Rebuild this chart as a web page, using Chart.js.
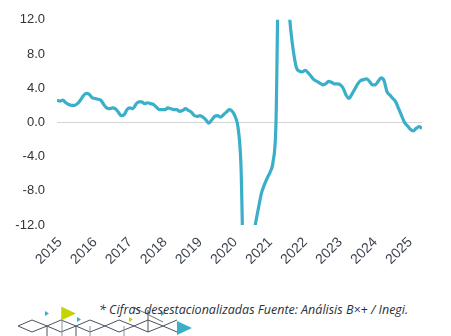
<!DOCTYPE html>
<html>
<head>
<meta charset="utf-8">
<script src="https://cdn.jsdelivr.net/npm/chart.js@4.4.1/dist/chart.umd.min.js"></script>
<style>
  html, body { margin: 0; padding: 0; background: #fff; }
  #wrap { position: relative; width: 451px; height: 336px; overflow: hidden; }
  #igae { position: absolute; left: 0; top: 0; }
  #nota {
    position: absolute; left: 99px; top: 301px;
    font: italic 12.5px "Open Sans", "Liberation Sans", sans-serif;
    color: #2b2f3a; white-space: nowrap;
  }
  #deco { position: absolute; left: 0; top: 300px; }
</style>
</head>
<body>
<div id="wrap">
  <canvas id="igae" width="451" height="285"></canvas>
  <svg id="deco" width="200" height="36" viewBox="0 300 200 36">
    <g fill="none" stroke="#4a5260" stroke-width="1">
      <polyline points="18,326 32,320 47,326 61,320 76,326 90,320 105,326 119,320 134,326 148,320 163,326 177,320" />
      <polyline points="18,326 32,332 47,326 61,332 76,326 90,332 105,326 119,332 134,326 148,332 163,326 177,332" />
      <line x1="62" y1="307" x2="62" y2="336" stroke="#8a909a" />
      <line x1="47" y1="326" x2="47" y2="336" />
      <line x1="76" y1="326" x2="76" y2="336" />
      <line x1="90" y1="326" x2="90" y2="336" stroke="#8a909a" />
      <line x1="148" y1="310" x2="148" y2="332" />
      <line x1="133" y1="307" x2="163" y2="322" stroke="#6a707a" />
      <line x1="124" y1="326" x2="124" y2="336" stroke="#8a909a" />
    </g>
    <polygon points="45,311 45,316 49,313.5" fill="#3aafc9" />
    <polygon points="62,307 62,320 76,313.5" fill="#c3d500" />
    <polygon points="77,317 77,322 81,319.5" fill="#3aafc9" />
    <polygon points="129,317 129,322 133,319.5" fill="#c3d500" />
    <polygon points="161,311 161,316 165,313.5" fill="#3aafc9" />
    <polygon points="177,321 177,335 192,328" fill="#3aafc9" />
  </svg>
  <div id="nota">* Cifras desestacionalizadas Fuente: Análisis B×+ / Inegi.</div>
</div>
<script>
// años del eje x, uno por cada enero
const years = ["2015", "2016", "2017", "2018", "2019", "2020", "2021", "2022", "2023", "2024", "2025"];

// variación anual mensual (%), ene-2015 a jun-2025
const v2015 = [2.6, 2.5, 2.6, 2.3, 2.1, 2.0, 2.0, 2.2, 2.6, 3.1, 3.4, 3.3];
const v2016 = [2.9, 2.8, 2.7, 2.6, 2.1, 1.7, 1.6, 1.7, 1.6, 1.2, 0.8, 0.9];
const v2017 = [1.5, 1.7, 1.6, 2.1, 2.4, 2.4, 2.2, 2.3, 2.2, 2.1, 1.8, 1.5];
const v2018 = [1.5, 1.5, 1.7, 1.6, 1.5, 1.5, 1.3, 1.4, 1.6, 1.4, 1.2, 0.8];
const v2019 = [0.7, 0.8, 0.6, 0.3, -0.1, 0.3, 0.7, 0.8, 0.6, 0.9, 1.2, 1.5];
const v2020 = [1.3, 0.7, -0.6, -5.0, -19.0, -21.0, -17.0, -14.0, -11.8, -10.0, -8.3, -7.3];
const v2021 = [-6.5, -5.8, -4.6, 0.0, 20.0, 21.0, 19.0, 15.0, 11.0, 8.2, 6.4, 6.0];
const v2022 = [5.9, 6.1, 5.8, 5.4, 5.0, 4.8, 4.6, 4.4, 4.5, 4.8, 4.7, 4.5];
const v2023 = [4.5, 4.4, 4.0, 3.2, 2.8, 3.3, 3.9, 4.5, 4.9, 5.0, 5.1, 4.8];
const v2024 = [4.4, 4.4, 4.8, 5.2, 4.9, 3.6, 3.2, 2.8, 2.4, 1.6, 0.8, 0.0];
const v2025 = [-0.4, -0.8, -1.0, -0.7, -0.5, -0.7];

const values = [].concat(v2015, v2016, v2017, v2018, v2019, v2020, v2021, v2022, v2023, v2024, v2025);

// una etiqueta por mes: "2015-01", ...
const labels = values.map((_, i) => years[Math.floor(i / 12)] + "-" + String(i % 12 + 1).padStart(2, "0"));

const ctx = document.getElementById("igae").getContext("2d");

new Chart(ctx, {
  type: "line",
  data: {
    labels: labels,
    datasets: [{
      data: values,
      borderColor: "#3aafc9",
      borderWidth: 3.2,
      pointRadius: 0,
      fill: false,
      cubicInterpolationMode: "monotone",
      clip: 0
    }]
  },
  options: {
    responsive: false,
    animation: false,
    layout: { padding: { top: 18, right: 29, left: 0, bottom: 0 } },
    scales: {
      x: {
        grid: { display: false, drawTicks: false },
        border: { display: false },
        afterFit: s => { s.height = 60; },
        ticks: {
          autoSkip: false,
          maxRotation: 45,
          minRotation: 45,
          padding: 9,
          labelOffset: 3,
          color: "#3d4450",
          font: { family: "'Liberation Sans', Arial, sans-serif", size: 14 },
          callback: (v, i) => i % 12 === 0 ? years[i / 12] : ""
        }
      },
      y: {
        min: -12,
        max: 12,
        afterFit: s => { s.width = 57; },
        border: { display: false },
        grid: {
          drawTicks: false,
          color: c => c.tick && c.tick.value === 0 ? "#d4d4d4" : "rgba(0,0,0,0)"
        },
        ticks: {
          stepSize: 4,
          padding: 12,
          color: "#333",
          font: { family: "'Liberation Sans', Arial, sans-serif", size: 13 },
          callback: v => v.toFixed(1)
        }
      }
    },
    plugins: {
      legend: { display: false },
      tooltip: { enabled: false }
    }
  }
});
</script>
</body>
</html>
